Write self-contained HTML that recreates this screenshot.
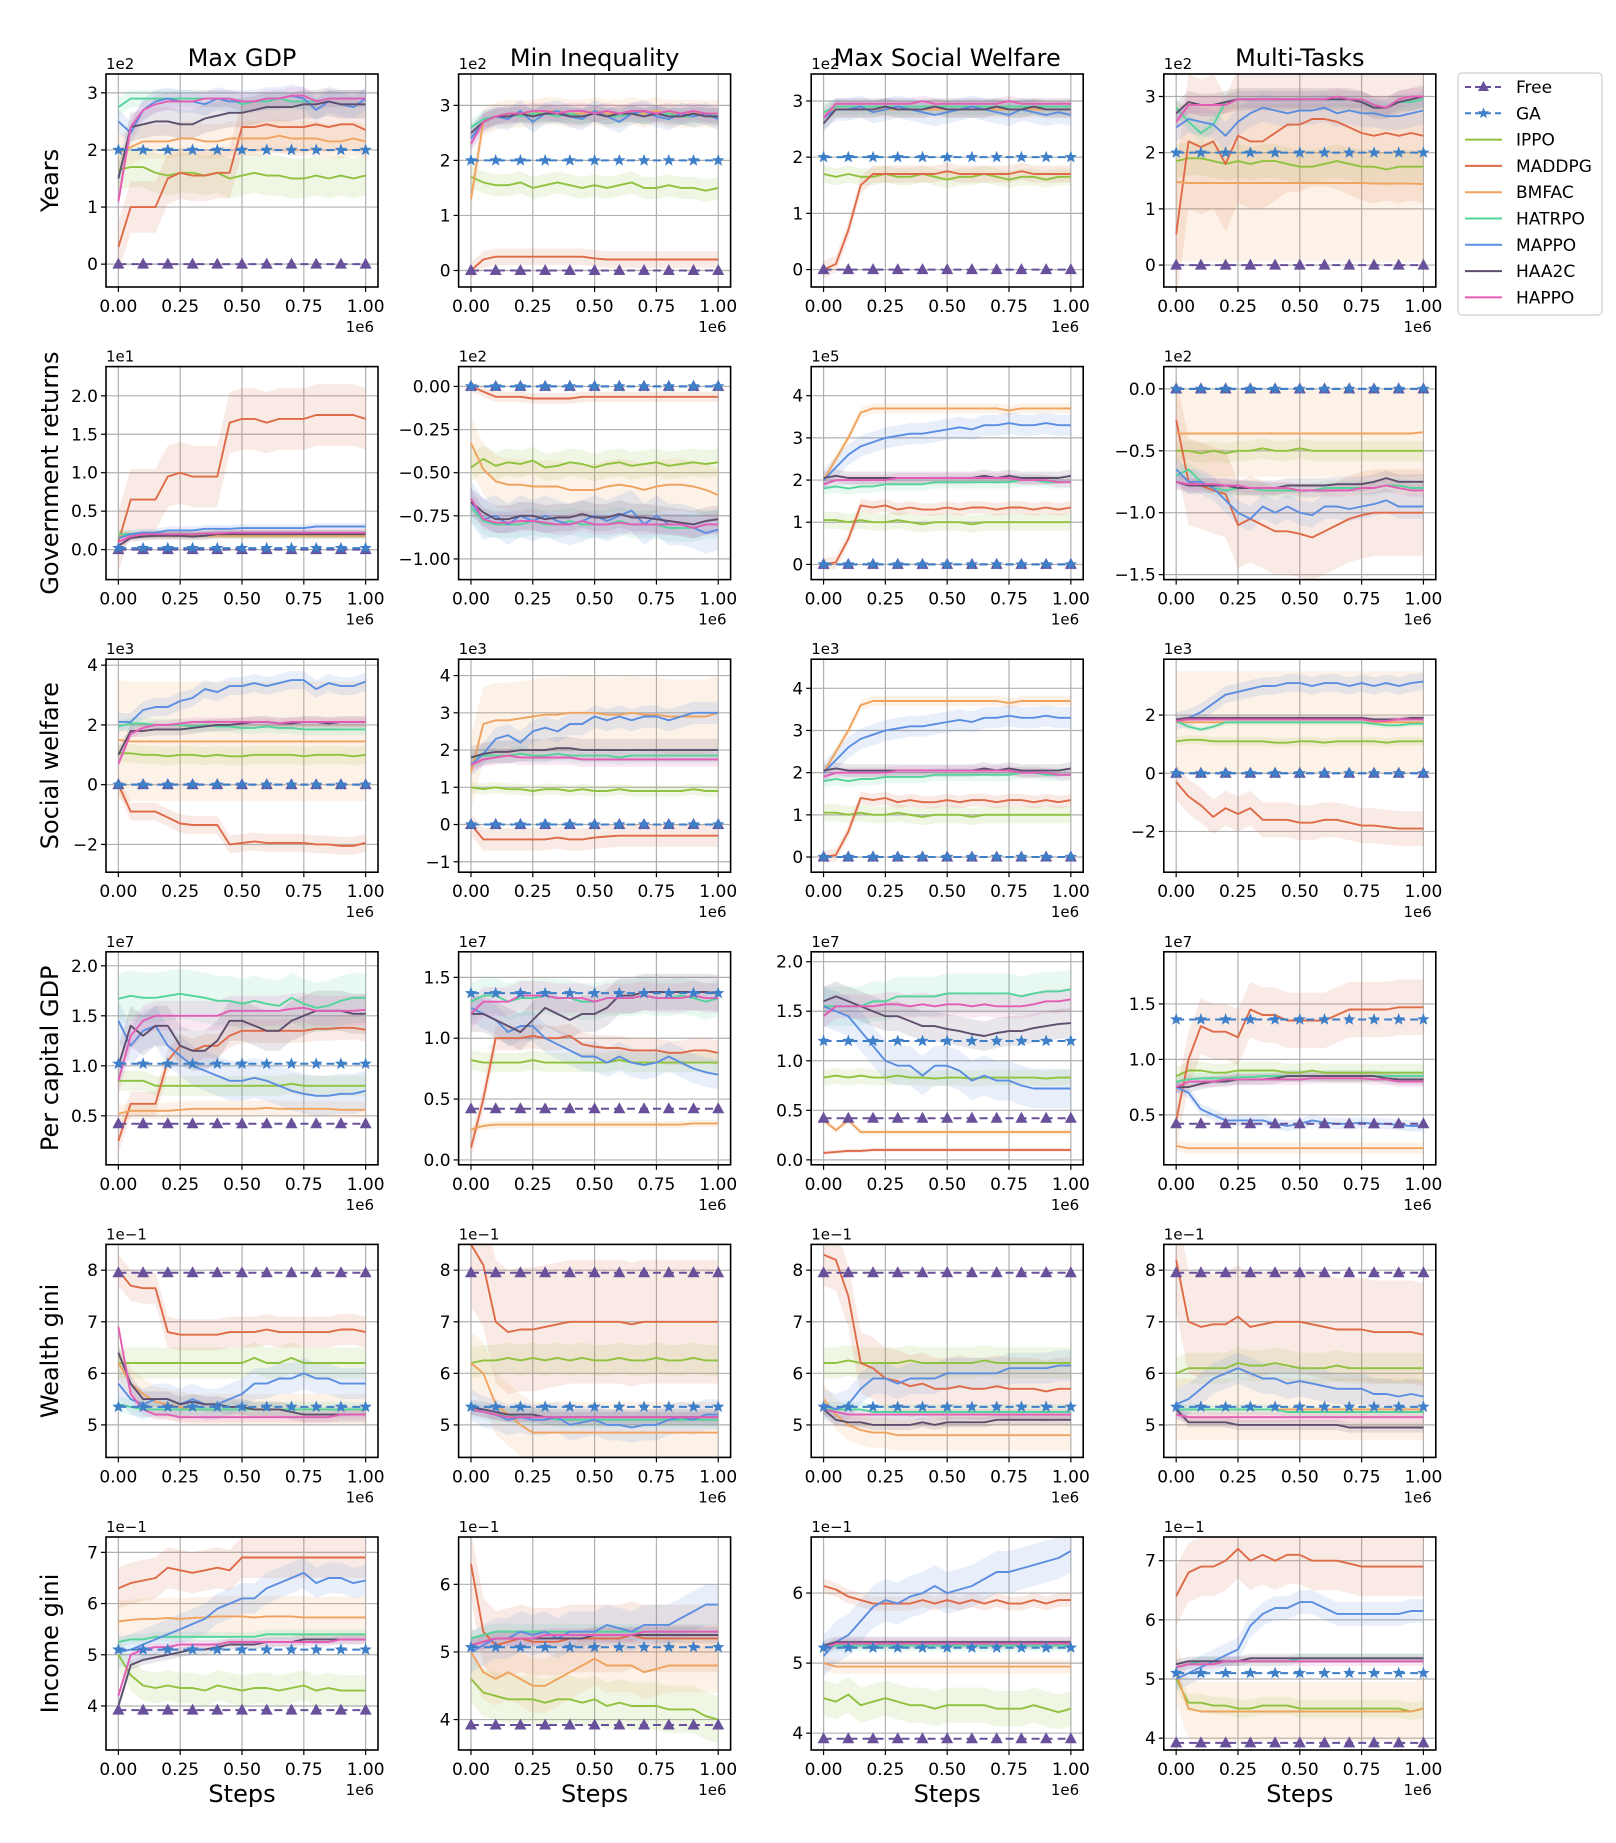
<!DOCTYPE html>
<html><head><meta charset="utf-8">
<style>
body{margin:0;background:#fff;}
svg text{font-family:"DejaVu Sans","Liberation Sans",sans-serif;fill:#000;}
</style></head>
<body>
<svg id="fig" width="1616" height="1838" viewBox="0 0 1616 1838" xmlns="http://www.w3.org/2000/svg"></svg>
<script>
// ---------- DATA ----------
const seriesNames = ["Free","GA","IPPO","MADDPG","BMFAC","HATRPO","MAPPO","HAA2C","HAPPO"];
const seriesColors = ["#68519a","#3d7fc8","#8fc23e","#df6a47","#f0a35e","#52d49a","#5b8ee0","#5d4e6d","#e45cb5"];
const colTitles = ["Max GDP","Min Inequality","Max Social Welfare","Multi-Tasks"];
const rowLabels = ["Years","Government returns","Social welfare","Per capital GDP","Wealth gini","Income gini"];
const rowExp = [["1e2","1e2","1e2","1e2"],["1e1","1e2","1e5","1e2"],["1e3","1e3","1e3","1e3"],["1e7","1e7","1e7","1e7"],["1e\u22121","1e\u22121","1e\u22121","1e\u22121"],["1e\u22121","1e\u22121","1e\u22121","1e\u22121"]];
const yLims = [
 [[-0.40,3.33],[-0.30,3.57],[-0.31,3.48],[-0.39,3.40]],
 [[-0.39,2.38],[-1.12,0.115],[-0.36,4.69],[-1.54,0.18]],
 [[-2.93,4.2],[-1.28,4.44],[-0.36,4.69],[-3.4,3.92]],
 [[0.01,2.14],[-0.04,1.71],[-0.05,2.1],[0.05,1.97]],
 [[4.37,8.5],[4.37,8.5],[4.37,8.5],[4.37,8.5]],
 [[3.14,7.3],[3.55,6.7],[3.76,6.8],[3.8,7.4]]
];
const yTicks = [
 [[0,1,2,3],[0,1,2,3],[0,1,2,3],[0,1,2,3]],
 [[0,0.5,1,1.5,2],[0,-0.25,-0.5,-0.75,-1],[0,1,2,3,4],[0,-0.5,-1,-1.5]],
 [[-2,0,2,4],[-1,0,1,2,3,4],[0,1,2,3,4],[-2,0,2]],
 [[0.5,1,1.5,2],[0,0.5,1,1.5],[0,0.5,1,1.5,2],[0.5,1,1.5]],
 [[5,6,7,8],[5,6,7,8],[5,6,7,8],[5,6,7,8]],
 [[4,5,6,7],[4,5,6],[4,5,6],[4,5,6,7]]
];
const yDec = [[0,0,0,0],[1,2,0,1],[0,0,0,0],[1,1,1,1],[0,0,0,0],[0,0,0,0]];
const xTicks = [0,0.25,0.5,0.75,1.0];
const xTickLabels = ["0.00","0.25","0.50","0.75","1.00"];
const baselines = [
 [[0,2],[0,2],[0,2],[0,2]],
 [[0,0.02],[0,0],[0,0],[0,0]],
 [[0,0],[0,0],[0,0],[0,0]],
 [[0.42,1.02],[0.42,1.37],[0.42,1.2],[0.42,1.36]],
 [[7.95,5.35],[7.95,5.35],[7.95,5.35],[7.95,5.35]],
 [[3.92,5.1],[3.92,5.07],[3.92,5.22],[3.92,5.1]]
];
const bands = [
 [[0.35,0.45,0.3,0.15,0.2,0.25,0.15],[0.2,0.15,0.25,0.15,0.2,0.15,0.15],[0.15,0.15,0.15,0.15,0.2,0.15,0.1],[0.3,1.2,1.4,0.15,0.25,0.2,0.15]],
 [[0.05,0.4,0.05,0.05,0.05,0.05,0.05],[0.08,0.03,0.15,0.08,0.12,0.08,0.06],[0.2,0.15,0.12,0.15,0.25,0.15,0.12],[0.08,0.35,0.35,0.06,0.1,0.06,0.05]],
 [[0.3,0.3,2.0,0.2,0.3,0.2,0.15],[0.15,0.3,1.0,0.2,0.3,0.3,0.2],[0.2,0.15,0.12,0.15,0.25,0.15,0.12],[0.15,0.6,1.75,0.1,0.3,0.1,0.1]],
 [[0.1,0.12,0.08,0.25,0.2,0.2,0.15],[0.08,0.1,0.03,0.15,0.12,0.15,0.12],[0.08,0.02,0.03,0.2,0.2,0.15,0.12],[0.08,0.25,0.05,0.05,0.05,0.05,0.05]],
 [[0.3,0.3,0.3,0.15,0.3,0.15,0.1],[0.3,1.2,0.6,0.15,0.3,0.15,0.1],[0.3,0.6,0.3,0.15,0.3,0.1,0.1],[0.3,1.0,0.6,0.1,0.3,0.1,0.1]],
 [[0.3,0.4,0.4,0.1,0.3,0.1,0.08],[0.35,0.5,0.4,0.12,0.3,0.12,0.1],[0.25,0.1,0.1,0.08,0.3,0.08,0.08],[0.15,0.5,0.5,0.08,0.2,0.08,0.08]]
];
const vals = [
 [
  [[1.65,1.7,1.7,1.6,1.55,1.6,1.6,1.55,1.6,1.5,1.55,1.6,1.55,1.55,1.5,1.5,1.55,1.5,1.55,1.5,1.55],
   [0.3,1.0,1.0,1.0,1.5,1.6,1.55,1.55,1.6,1.6,2.4,2.4,2.45,2.4,2.4,2.4,2.45,2.4,2.45,2.45,2.35],
   [1.95,2.05,2.15,2.15,2.15,2.2,2.2,2.15,2.15,2.2,2.2,2.2,2.2,2.25,2.2,2.2,2.2,2.15,2.15,2.2,2.15],
   [2.75,2.9,2.9,2.9,2.9,2.9,2.9,2.9,2.9,2.9,2.8,2.85,2.85,2.9,2.85,2.85,2.85,2.9,2.9,2.9,2.9],
   [2.5,2.3,2.7,2.85,2.9,2.85,2.85,2.8,2.9,2.85,2.85,2.85,2.9,2.9,2.95,2.9,2.7,2.85,2.8,2.75,2.9],
   [1.5,2.4,2.45,2.5,2.5,2.45,2.45,2.55,2.6,2.65,2.65,2.7,2.75,2.75,2.75,2.8,2.8,2.85,2.8,2.8,2.8],
   [1.1,2.4,2.7,2.8,2.85,2.85,2.85,2.9,2.9,2.9,2.85,2.85,2.9,2.9,2.95,2.95,2.85,2.9,2.9,2.9,2.9]],
  [[1.7,1.6,1.55,1.55,1.6,1.5,1.55,1.6,1.55,1.5,1.55,1.5,1.55,1.6,1.5,1.5,1.55,1.5,1.5,1.45,1.5],
   [0,0.2,0.25,0.25,0.25,0.25,0.25,0.25,0.25,0.25,0.22,0.2,0.2,0.2,0.2,0.2,0.2,0.2,0.2,0.2,0.2],
   [1.3,2.7,2.8,2.85,2.85,2.85,2.9,2.9,2.85,2.85,2.9,2.85,2.85,2.9,2.85,2.9,2.85,2.85,2.85,2.85,2.85],
   [2.6,2.75,2.8,2.85,2.8,2.85,2.85,2.8,2.85,2.8,2.85,2.8,2.8,2.85,2.8,2.85,2.85,2.8,2.8,2.85,2.8],
   [2.4,2.7,2.8,2.75,2.9,2.7,2.85,2.9,2.8,2.75,2.9,2.8,2.7,2.85,2.9,2.8,2.75,2.85,2.8,2.85,2.75],
   [2.5,2.7,2.8,2.8,2.85,2.8,2.85,2.85,2.8,2.8,2.85,2.8,2.85,2.85,2.8,2.85,2.8,2.8,2.85,2.8,2.8],
   [2.3,2.7,2.8,2.85,2.85,2.9,2.9,2.85,2.9,2.9,2.85,2.9,2.85,2.9,2.9,2.85,2.9,2.85,2.9,2.85,2.85]],
  [[1.7,1.65,1.7,1.65,1.65,1.7,1.65,1.65,1.7,1.65,1.6,1.65,1.65,1.7,1.65,1.6,1.65,1.65,1.6,1.65,1.65],
   [0,0.1,0.7,1.5,1.7,1.7,1.7,1.7,1.7,1.7,1.75,1.7,1.7,1.7,1.7,1.7,1.75,1.7,1.7,1.7,1.7],
   [2.8,2.85,2.85,2.85,2.85,2.85,2.85,2.85,2.85,2.85,2.85,2.85,2.85,2.85,2.85,2.85,2.85,2.85,2.85,2.85,2.85],
   [2.8,2.9,2.9,2.9,2.9,2.9,2.9,2.9,2.9,2.9,2.9,2.9,2.9,2.9,2.9,2.9,2.9,2.9,2.9,2.9,2.9],
   [2.7,2.85,2.85,2.9,2.8,2.85,2.9,2.85,2.8,2.75,2.8,2.85,2.9,2.85,2.8,2.75,2.85,2.8,2.75,2.8,2.75],
   [2.6,2.85,2.85,2.85,2.85,2.9,2.85,2.85,2.85,2.9,2.85,2.85,2.85,2.85,2.9,2.85,2.85,2.9,2.85,2.85,2.85],
   [2.7,2.95,2.95,2.95,2.95,2.95,2.95,2.95,3.0,2.95,2.95,2.95,2.95,2.95,2.95,3.0,2.95,2.95,2.95,2.95,2.95]],
  [[1.85,1.9,1.9,1.85,1.8,1.85,1.8,1.85,1.85,1.8,1.75,1.75,1.8,1.85,1.8,1.75,1.75,1.7,1.75,1.75,1.75],
   [0.55,2.2,2.1,2.2,1.8,2.3,2.2,2.2,2.35,2.5,2.5,2.6,2.6,2.55,2.45,2.35,2.3,2.35,2.3,2.35,2.3],
   [1.48,1.46,1.46,1.46,1.46,1.46,1.46,1.46,1.46,1.46,1.46,1.46,1.46,1.46,1.46,1.46,1.45,1.45,1.45,1.45,1.44],
   [2.8,2.55,2.35,2.5,2.9,2.95,2.95,2.95,2.95,2.95,2.95,2.95,2.95,2.95,2.95,2.95,2.8,2.8,2.9,2.9,2.95],
   [2.45,2.6,2.55,2.5,2.3,2.55,2.7,2.8,2.75,2.7,2.75,2.75,2.8,2.7,2.75,2.7,2.7,2.65,2.65,2.7,2.75],
   [2.7,2.9,2.85,2.85,2.9,2.95,2.95,2.95,2.95,2.95,2.95,2.95,2.95,2.95,2.95,2.9,2.8,2.8,2.9,2.95,3.0],
   [2.55,2.85,2.85,2.85,2.85,2.95,2.95,2.95,2.95,2.95,2.95,2.95,2.95,3.0,2.95,2.95,2.85,2.8,2.95,3.0,3.0]]
 ],
 [
  [[0.2,0.2,0.2,0.2,0.2,0.2,0.2,0.2,0.2,0.2,0.2,0.2,0.2,0.2,0.2,0.2,0.2,0.2,0.2,0.2,0.2],
   [0.1,0.65,0.65,0.65,0.95,1.0,0.95,0.95,0.95,1.65,1.7,1.7,1.65,1.7,1.7,1.7,1.75,1.75,1.75,1.75,1.7],
   [0.18,0.18,0.18,0.18,0.18,0.18,0.18,0.18,0.18,0.18,0.18,0.18,0.18,0.18,0.18,0.18,0.18,0.18,0.18,0.18,0.18],
   [0.2,0.2,0.2,0.2,0.2,0.2,0.2,0.2,0.2,0.2,0.2,0.2,0.2,0.2,0.2,0.2,0.2,0.2,0.2,0.2,0.2],
   [0.15,0.2,0.22,0.22,0.25,0.25,0.25,0.27,0.27,0.27,0.28,0.28,0.28,0.28,0.28,0.28,0.3,0.3,0.3,0.3,0.3],
   [0.05,0.15,0.17,0.18,0.18,0.18,0.17,0.18,0.2,0.2,0.2,0.2,0.2,0.2,0.2,0.2,0.2,0.2,0.2,0.2,0.2],
   [0.1,0.17,0.2,0.2,0.2,0.2,0.2,0.21,0.21,0.22,0.22,0.22,0.22,0.22,0.22,0.22,0.22,0.22,0.22,0.22,0.22]],
  [[-0.47,-0.42,-0.46,-0.44,-0.45,-0.43,-0.47,-0.46,-0.44,-0.45,-0.47,-0.45,-0.44,-0.46,-0.45,-0.44,-0.46,-0.45,-0.44,-0.45,-0.44],
   [0,-0.03,-0.06,-0.06,-0.06,-0.07,-0.07,-0.07,-0.07,-0.06,-0.06,-0.06,-0.06,-0.06,-0.06,-0.06,-0.06,-0.06,-0.06,-0.06,-0.06],
   [-0.33,-0.48,-0.55,-0.57,-0.57,-0.58,-0.58,-0.58,-0.6,-0.6,-0.6,-0.58,-0.57,-0.58,-0.6,-0.58,-0.57,-0.57,-0.58,-0.6,-0.63],
   [-0.7,-0.78,-0.8,-0.8,-0.8,-0.78,-0.8,-0.8,-0.78,-0.8,-0.8,-0.8,-0.78,-0.8,-0.8,-0.8,-0.82,-0.82,-0.82,-0.8,-0.8],
   [-0.67,-0.77,-0.75,-0.8,-0.75,-0.78,-0.75,-0.78,-0.8,-0.78,-0.75,-0.78,-0.75,-0.72,-0.8,-0.75,-0.8,-0.8,-0.82,-0.85,-0.83],
   [-0.67,-0.73,-0.77,-0.77,-0.75,-0.75,-0.77,-0.76,-0.76,-0.74,-0.76,-0.76,-0.74,-0.76,-0.76,-0.77,-0.78,-0.79,-0.8,-0.78,-0.77],
   [-0.65,-0.77,-0.79,-0.79,-0.78,-0.78,-0.79,-0.8,-0.8,-0.78,-0.8,-0.8,-0.79,-0.8,-0.8,-0.8,-0.8,-0.8,-0.82,-0.8,-0.8]],
  [[1.05,1.05,1.0,1.05,1.0,1.0,1.05,1.0,0.95,1.0,1.0,1.0,0.95,1.0,1.0,1.0,1.0,1.0,1.0,1.0,1.0],
   [0,0.05,0.6,1.4,1.35,1.4,1.3,1.35,1.3,1.3,1.35,1.3,1.35,1.35,1.3,1.35,1.35,1.3,1.35,1.3,1.35],
   [2.0,2.5,3.0,3.6,3.7,3.7,3.7,3.7,3.7,3.7,3.7,3.7,3.7,3.7,3.7,3.65,3.7,3.7,3.7,3.7,3.7],
   [1.8,1.85,1.8,1.85,1.85,1.9,1.9,1.9,1.9,1.95,1.95,1.95,1.95,1.95,1.95,1.95,2.0,2.0,1.95,1.95,1.95],
   [2.0,2.3,2.6,2.8,2.9,3.0,3.05,3.1,3.1,3.15,3.2,3.25,3.2,3.3,3.3,3.35,3.3,3.3,3.35,3.3,3.3],
   [2.05,2.1,2.05,2.05,2.05,2.05,2.05,2.05,2.05,2.05,2.05,2.05,2.05,2.1,2.05,2.1,2.05,2.05,2.05,2.05,2.1],
   [1.9,2.0,2.0,2.0,2.0,2.0,2.05,2.05,2.05,2.05,2.05,2.05,2.05,2.05,2.05,2.05,2.0,2.0,2.0,1.95,1.95]],
  [[-0.5,-0.5,-0.52,-0.5,-0.52,-0.5,-0.5,-0.48,-0.5,-0.5,-0.48,-0.5,-0.5,-0.5,-0.5,-0.5,-0.5,-0.5,-0.5,-0.5,-0.5],
   [-0.25,-0.75,-0.78,-0.82,-0.85,-1.1,-1.05,-1.1,-1.15,-1.15,-1.17,-1.2,-1.15,-1.1,-1.05,-1.02,-1.0,-1.0,-1.0,-1.0,-1.0],
   [-0.36,-0.36,-0.36,-0.36,-0.36,-0.36,-0.36,-0.36,-0.36,-0.36,-0.36,-0.36,-0.36,-0.36,-0.36,-0.36,-0.36,-0.36,-0.36,-0.36,-0.35],
   [-0.7,-0.65,-0.75,-0.8,-0.82,-0.8,-0.8,-0.82,-0.82,-0.82,-0.82,-0.82,-0.8,-0.8,-0.8,-0.8,-0.8,-0.78,-0.78,-0.8,-0.8],
   [-0.65,-0.75,-0.75,-0.8,-0.9,-1.0,-1.05,-0.95,-1.0,-0.95,-1.0,-1.02,-0.95,-0.95,-0.97,-0.95,-0.93,-0.9,-0.95,-0.95,-0.95],
   [-0.75,-0.78,-0.78,-0.78,-0.78,-0.8,-0.8,-0.8,-0.8,-0.78,-0.78,-0.78,-0.78,-0.77,-0.77,-0.77,-0.75,-0.72,-0.75,-0.75,-0.75],
   [-0.75,-0.77,-0.77,-0.77,-0.78,-0.78,-0.8,-0.8,-0.8,-0.8,-0.82,-0.82,-0.82,-0.82,-0.82,-0.8,-0.8,-0.78,-0.8,-0.82,-0.82]]
 ],
 [
  [[1.05,1.05,1.0,1.0,0.95,1.0,1.0,0.95,1.0,0.95,0.95,1.0,1.0,1.0,1.0,0.95,1.0,1.0,1.0,0.95,1.0],
   [0,-0.9,-0.9,-0.9,-1.1,-1.3,-1.35,-1.35,-1.35,-2.0,-1.95,-1.9,-1.95,-1.95,-1.95,-1.95,-2.0,-2.0,-2.05,-2.05,-1.95],
   [1.5,1.45,1.45,1.45,1.45,1.45,1.45,1.45,1.45,1.45,1.45,1.45,1.45,1.45,1.45,1.45,1.45,1.45,1.45,1.45,1.45],
   [1.95,2.05,2.05,2.0,2.0,2.0,1.95,2.0,1.95,1.95,1.9,1.9,1.95,1.9,1.9,1.85,1.85,1.85,1.85,1.85,1.85],
   [2.1,2.1,2.5,2.6,2.6,2.8,2.9,3.2,3.1,3.3,3.3,3.4,3.3,3.4,3.5,3.5,3.2,3.4,3.3,3.3,3.45],
   [1.0,1.8,1.8,1.85,1.85,1.85,1.9,1.95,2.0,2.0,2.05,2.1,2.1,2.05,2.05,2.1,2.1,2.05,2.1,2.1,2.1],
   [0.7,1.7,1.9,2.0,2.0,2.05,2.1,2.1,2.1,2.1,2.1,2.1,2.1,2.05,2.1,2.1,2.1,2.1,2.1,2.1,2.1]],
  [[1.0,0.95,1.0,0.95,0.95,0.9,0.95,0.95,0.9,0.95,0.9,0.9,0.95,0.9,0.9,0.9,0.9,0.9,0.95,0.9,0.9],
   [0,-0.4,-0.4,-0.4,-0.4,-0.4,-0.4,-0.35,-0.4,-0.4,-0.35,-0.32,-0.3,-0.3,-0.3,-0.3,-0.3,-0.3,-0.3,-0.3,-0.3],
   [1.4,2.7,2.8,2.8,2.85,2.9,2.95,2.95,3.0,3.0,3.0,2.95,2.95,3.0,2.95,2.95,2.9,2.9,2.9,2.9,3.0],
   [1.8,1.85,1.85,1.85,1.9,1.85,1.85,1.9,1.85,1.85,1.85,1.85,1.8,1.85,1.85,1.85,1.85,1.85,1.85,1.85,1.85],
   [1.6,1.9,2.3,2.4,2.2,2.5,2.6,2.5,2.7,2.7,2.9,2.8,2.9,2.8,2.9,2.9,2.8,2.9,3.0,3.0,3.0],
   [1.8,1.9,1.95,1.95,2.0,2.0,2.0,2.05,2.05,2.0,2.0,2.0,2.0,2.0,2.0,2.0,2.0,2.0,2.0,2.0,2.0],
   [1.6,1.75,1.8,1.85,1.8,1.8,1.8,1.8,1.8,1.75,1.75,1.75,1.75,1.75,1.75,1.75,1.75,1.75,1.75,1.75,1.75]],
  [[1.05,1.05,1.0,1.05,1.0,1.0,1.05,1.0,0.95,1.0,1.0,1.0,0.95,1.0,1.0,1.0,1.0,1.0,1.0,1.0,1.0],
   [0,0.05,0.6,1.4,1.35,1.4,1.3,1.35,1.3,1.3,1.35,1.3,1.35,1.35,1.3,1.35,1.35,1.3,1.35,1.3,1.35],
   [2.0,2.5,3.0,3.6,3.7,3.7,3.7,3.7,3.7,3.7,3.7,3.7,3.7,3.7,3.7,3.65,3.7,3.7,3.7,3.7,3.7],
   [1.8,1.85,1.8,1.85,1.85,1.9,1.9,1.9,1.9,1.95,1.95,1.95,1.95,1.95,1.95,1.95,2.0,2.0,1.95,1.95,1.95],
   [2.0,2.3,2.6,2.8,2.9,3.0,3.05,3.1,3.1,3.15,3.2,3.25,3.2,3.3,3.3,3.35,3.3,3.3,3.35,3.3,3.3],
   [2.05,2.1,2.05,2.05,2.05,2.05,2.05,2.05,2.05,2.05,2.05,2.05,2.05,2.1,2.05,2.1,2.05,2.05,2.05,2.05,2.1],
   [1.9,2.0,2.0,2.0,2.0,2.0,2.05,2.05,2.05,2.05,2.05,2.05,2.05,2.05,2.05,2.05,2.0,2.0,2.0,1.95,1.95]],
  [[1.1,1.15,1.15,1.1,1.1,1.1,1.1,1.1,1.05,1.05,1.1,1.1,1.05,1.1,1.1,1.1,1.1,1.05,1.1,1.1,1.1],
   [-0.3,-0.8,-1.1,-1.5,-1.2,-1.4,-1.2,-1.6,-1.6,-1.6,-1.7,-1.7,-1.6,-1.6,-1.7,-1.8,-1.8,-1.85,-1.9,-1.9,-1.9],
   [1.75,1.75,1.75,1.75,1.75,1.75,1.75,1.75,1.75,1.75,1.75,1.75,1.75,1.75,1.75,1.75,1.75,1.75,1.75,1.75,1.75],
   [1.8,1.6,1.5,1.6,1.75,1.75,1.75,1.75,1.75,1.75,1.75,1.75,1.75,1.75,1.75,1.75,1.7,1.65,1.65,1.7,1.7],
   [1.8,1.9,2.1,2.4,2.7,2.8,2.9,3.0,3.0,3.1,3.1,3.0,3.1,3.1,3.0,3.1,3.0,3.1,3.0,3.1,3.15],
   [1.85,1.9,1.9,1.9,1.9,1.9,1.9,1.9,1.9,1.9,1.9,1.9,1.9,1.9,1.9,1.9,1.85,1.85,1.85,1.9,1.9],
   [1.8,1.85,1.85,1.85,1.85,1.85,1.85,1.85,1.85,1.85,1.85,1.85,1.85,1.85,1.85,1.85,1.8,1.8,1.85,1.85,1.85]]
 ],
 [
  [[0.85,0.85,0.85,0.8,0.8,0.8,0.8,0.8,0.8,0.8,0.8,0.8,0.8,0.8,0.82,0.8,0.8,0.8,0.8,0.8,0.8],
   [0.25,0.62,0.62,0.62,1.05,1.2,1.15,1.2,1.2,1.3,1.35,1.35,1.35,1.35,1.35,1.35,1.37,1.37,1.38,1.38,1.36],
   [0.52,0.55,0.55,0.55,0.55,0.56,0.57,0.57,0.57,0.57,0.57,0.57,0.58,0.57,0.57,0.57,0.57,0.57,0.56,0.56,0.56],
   [1.67,1.7,1.68,1.68,1.7,1.72,1.7,1.68,1.65,1.65,1.62,1.65,1.62,1.6,1.68,1.62,1.58,1.6,1.65,1.68,1.68],
   [1.45,1.2,1.35,1.4,1.2,1.1,1.0,0.95,0.9,0.85,0.85,0.88,0.85,0.8,0.75,0.72,0.7,0.7,0.72,0.72,0.75],
   [1.0,1.4,1.3,1.4,1.4,1.2,1.15,1.15,1.25,1.45,1.45,1.4,1.35,1.35,1.45,1.5,1.55,1.55,1.55,1.52,1.52],
   [0.85,1.3,1.45,1.5,1.5,1.5,1.5,1.5,1.5,1.55,1.55,1.55,1.55,1.55,1.57,1.58,1.55,1.55,1.55,1.55,1.56]],
  [[0.82,0.8,0.8,0.8,0.8,0.82,0.8,0.8,0.8,0.8,0.8,0.8,0.82,0.8,0.8,0.8,0.8,0.8,0.8,0.8,0.8],
   [0.1,0.5,1.0,1.0,1.0,1.02,1.0,1.0,1.02,0.95,0.93,0.92,0.92,0.9,0.9,0.9,0.88,0.88,0.9,0.9,0.88],
   [0.25,0.28,0.29,0.29,0.29,0.29,0.29,0.29,0.29,0.29,0.29,0.29,0.29,0.29,0.29,0.29,0.29,0.29,0.3,0.3,0.3],
   [1.3,1.35,1.35,1.3,1.33,1.33,1.35,1.33,1.33,1.3,1.3,1.33,1.33,1.33,1.35,1.33,1.33,1.35,1.33,1.3,1.33],
   [1.25,1.2,1.15,1.05,1.1,1.1,1.0,0.95,0.9,0.85,0.85,0.8,0.85,0.8,0.78,0.8,0.85,0.8,0.75,0.72,0.7],
   [1.2,1.2,1.15,1.1,1.05,1.15,1.25,1.2,1.15,1.2,1.2,1.25,1.35,1.35,1.38,1.38,1.38,1.38,1.38,1.38,1.37],
   [1.2,1.3,1.3,1.3,1.35,1.35,1.35,1.33,1.33,1.33,1.3,1.33,1.33,1.33,1.35,1.33,1.33,1.33,1.35,1.33,1.33]],
  [[0.83,0.85,0.83,0.85,0.83,0.83,0.85,0.83,0.83,0.82,0.83,0.83,0.82,0.83,0.83,0.83,0.83,0.83,0.82,0.83,0.83],
   [0.07,0.08,0.09,0.09,0.1,0.1,0.1,0.1,0.1,0.1,0.1,0.1,0.1,0.1,0.1,0.1,0.1,0.1,0.1,0.1,0.1],
   [0.4,0.3,0.4,0.28,0.28,0.28,0.28,0.28,0.28,0.28,0.28,0.28,0.28,0.28,0.28,0.28,0.28,0.28,0.28,0.28,0.28],
   [1.55,1.55,1.55,1.55,1.6,1.6,1.65,1.65,1.65,1.65,1.68,1.68,1.68,1.68,1.68,1.68,1.65,1.68,1.7,1.7,1.72],
   [1.55,1.5,1.45,1.3,1.15,1.0,0.95,0.95,0.85,0.95,0.95,0.9,0.8,0.85,0.8,0.8,0.75,0.72,0.72,0.72,0.72],
   [1.6,1.65,1.6,1.55,1.5,1.45,1.45,1.4,1.35,1.35,1.32,1.3,1.27,1.25,1.28,1.3,1.3,1.33,1.35,1.37,1.38],
   [1.45,1.55,1.55,1.55,1.55,1.57,1.57,1.55,1.57,1.55,1.57,1.57,1.55,1.57,1.55,1.55,1.55,1.57,1.6,1.6,1.62]],
  [[0.85,0.9,0.9,0.88,0.88,0.9,0.9,0.9,0.9,0.88,0.88,0.9,0.88,0.88,0.88,0.88,0.88,0.88,0.88,0.88,0.88],
   [0.45,1.0,1.3,1.25,1.25,1.2,1.45,1.4,1.4,1.35,1.35,1.35,1.35,1.4,1.45,1.45,1.45,1.45,1.47,1.47,1.47],
   [0.22,0.2,0.2,0.2,0.2,0.2,0.2,0.2,0.2,0.2,0.2,0.2,0.2,0.2,0.2,0.2,0.2,0.2,0.2,0.2,0.2],
   [0.8,0.82,0.83,0.83,0.83,0.84,0.84,0.85,0.85,0.85,0.85,0.85,0.85,0.85,0.85,0.85,0.85,0.85,0.85,0.85,0.85],
   [0.75,0.7,0.55,0.5,0.45,0.45,0.45,0.45,0.42,0.4,0.42,0.45,0.43,0.42,0.42,0.43,0.42,0.42,0.41,0.4,0.4],
   [0.75,0.75,0.78,0.8,0.8,0.82,0.82,0.82,0.83,0.85,0.85,0.85,0.85,0.85,0.85,0.85,0.85,0.83,0.82,0.82,0.82],
   [0.75,0.8,0.8,0.8,0.82,0.82,0.82,0.82,0.82,0.82,0.82,0.83,0.83,0.83,0.83,0.83,0.82,0.82,0.8,0.8,0.8]]
 ],
 [
  [[6.2,6.2,6.2,6.2,6.2,6.2,6.2,6.2,6.2,6.2,6.2,6.3,6.2,6.2,6.3,6.2,6.2,6.2,6.2,6.2,6.2],
   [8.0,7.7,7.65,7.65,6.8,6.75,6.75,6.75,6.75,6.8,6.8,6.8,6.85,6.8,6.8,6.8,6.8,6.8,6.85,6.85,6.8],
   [6.2,5.8,5.6,5.45,5.4,5.35,5.3,5.3,5.3,5.3,5.3,5.3,5.3,5.3,5.3,5.3,5.3,5.3,5.3,5.3,5.3],
   [5.4,5.35,5.3,5.3,5.3,5.3,5.3,5.3,5.3,5.3,5.3,5.3,5.3,5.3,5.3,5.3,5.3,5.3,5.3,5.3,5.3],
   [5.8,5.5,5.4,5.5,5.5,5.4,5.5,5.4,5.4,5.5,5.6,5.8,5.8,5.9,5.9,6.0,5.9,5.9,5.8,5.8,5.8],
   [6.4,5.8,5.5,5.5,5.5,5.4,5.45,5.4,5.4,5.35,5.35,5.3,5.3,5.3,5.25,5.2,5.2,5.2,5.2,5.2,5.2],
   [6.9,5.6,5.3,5.2,5.2,5.15,5.15,5.15,5.15,5.15,5.15,5.15,5.15,5.15,5.15,5.15,5.15,5.15,5.2,5.2,5.2]],
  [[6.2,6.25,6.25,6.3,6.25,6.3,6.25,6.3,6.25,6.3,6.25,6.25,6.3,6.25,6.25,6.3,6.25,6.25,6.3,6.25,6.25],
   [8.5,8.1,7.0,6.8,6.85,6.85,6.9,6.95,7.0,7.0,7.0,7.0,7.0,6.95,7.0,7.0,7.0,7.0,7.0,7.0,7.0],
   [6.2,6.0,5.4,5.2,5.0,4.85,4.85,4.85,4.85,4.85,4.85,4.85,4.85,4.85,4.85,4.85,4.85,4.85,4.85,4.85,4.85],
   [5.3,5.25,5.2,5.2,5.15,5.15,5.15,5.1,5.1,5.1,5.1,5.1,5.1,5.1,5.1,5.1,5.1,5.1,5.1,5.1,5.1],
   [5.4,5.25,5.2,5.1,5.15,5.1,5.1,5.15,5.0,5.05,5.1,5.0,5.0,4.95,5.0,5.0,5.1,5.15,5.1,5.2,5.2],
   [5.35,5.3,5.25,5.2,5.2,5.2,5.15,5.15,5.15,5.15,5.15,5.15,5.15,5.15,5.15,5.15,5.15,5.15,5.15,5.15,5.15],
   [5.3,5.25,5.2,5.15,5.15,5.15,5.15,5.15,5.15,5.15,5.15,5.15,5.15,5.15,5.15,5.15,5.15,5.15,5.15,5.15,5.15]],
  [[6.2,6.2,6.25,6.2,6.2,6.2,6.2,6.25,6.2,6.2,6.2,6.2,6.2,6.25,6.2,6.2,6.2,6.2,6.2,6.2,6.2],
   [8.3,8.2,7.5,6.2,6.1,5.9,5.85,5.75,5.8,5.7,5.7,5.75,5.7,5.7,5.75,5.7,5.7,5.7,5.65,5.7,5.7],
   [5.5,5.2,5.0,4.9,4.85,4.85,4.8,4.8,4.8,4.8,4.8,4.8,4.8,4.8,4.8,4.8,4.8,4.8,4.8,4.8,4.8],
   [5.3,5.3,5.3,5.3,5.25,5.25,5.25,5.25,5.25,5.25,5.25,5.25,5.25,5.25,5.25,5.25,5.25,5.25,5.25,5.25,5.25],
   [5.4,5.3,5.4,5.7,5.9,5.9,5.8,5.9,5.9,5.9,6.0,6.0,6.0,6.0,6.0,6.1,6.1,6.1,6.1,6.15,6.15],
   [5.3,5.1,5.05,5.05,5.0,5.0,5.0,5.0,5.05,5.0,5.05,5.05,5.05,5.05,5.1,5.1,5.1,5.1,5.1,5.1,5.1],
   [5.3,5.25,5.2,5.2,5.2,5.2,5.2,5.2,5.2,5.2,5.2,5.2,5.2,5.2,5.2,5.2,5.2,5.2,5.2,5.2,5.2]],
  [[6.0,6.1,6.1,6.1,6.1,6.2,6.15,6.15,6.2,6.15,6.1,6.1,6.1,6.15,6.1,6.1,6.1,6.1,6.1,6.1,6.1],
   [8.2,7.0,6.9,6.95,6.95,7.1,6.9,6.95,7.0,7.0,7.0,6.95,6.9,6.85,6.85,6.85,6.8,6.8,6.8,6.8,6.75],
   [5.3,5.3,5.3,5.3,5.3,5.3,5.3,5.3,5.3,5.3,5.3,5.3,5.3,5.3,5.3,5.3,5.3,5.3,5.3,5.3,5.3],
   [5.3,5.3,5.3,5.3,5.3,5.3,5.3,5.3,5.3,5.25,5.25,5.25,5.25,5.25,5.25,5.25,5.25,5.25,5.25,5.25,5.25],
   [5.4,5.5,5.7,5.9,6.0,6.1,6.0,5.9,5.9,5.8,5.85,5.8,5.75,5.7,5.7,5.7,5.6,5.6,5.55,5.6,5.55],
   [5.3,5.05,5.05,5.05,5.05,5.0,5.0,5.0,5.0,5.0,5.0,5.0,5.0,5.0,4.95,4.95,4.95,4.95,4.95,4.95,4.95],
   [5.2,5.15,5.15,5.15,5.15,5.15,5.15,5.15,5.15,5.15,5.15,5.15,5.15,5.15,5.15,5.15,5.15,5.15,5.15,5.15,5.15]]
 ],
 [
  [[5.0,4.6,4.4,4.35,4.4,4.35,4.35,4.3,4.4,4.35,4.3,4.35,4.35,4.3,4.35,4.4,4.3,4.35,4.3,4.3,4.3],
   [6.3,6.4,6.45,6.5,6.7,6.65,6.6,6.65,6.7,6.65,6.9,6.9,6.9,6.9,6.9,6.9,6.9,6.9,6.9,6.9,6.9],
   [5.65,5.68,5.7,5.7,5.72,5.7,5.72,5.73,5.75,5.75,5.75,5.73,5.75,5.75,5.75,5.73,5.73,5.73,5.73,5.73,5.73],
   [5.25,5.3,5.3,5.35,5.35,5.35,5.35,5.35,5.35,5.35,5.35,5.35,5.4,5.4,5.4,5.4,5.4,5.4,5.4,5.4,5.4],
   [5.05,5.1,5.2,5.3,5.4,5.5,5.6,5.7,5.9,6.0,6.1,6.1,6.3,6.4,6.5,6.6,6.4,6.5,6.5,6.4,6.45],
   [4.0,4.8,4.9,4.95,5.0,5.05,5.1,5.1,5.15,5.2,5.2,5.2,5.25,5.25,5.25,5.3,5.3,5.3,5.3,5.3,5.3],
   [4.2,5.0,5.1,5.15,5.15,5.2,5.2,5.2,5.2,5.25,5.25,5.25,5.25,5.25,5.25,5.25,5.25,5.25,5.3,5.3,5.3]],
  [[4.6,4.4,4.35,4.3,4.3,4.3,4.25,4.3,4.3,4.25,4.3,4.2,4.25,4.2,4.2,4.2,4.15,4.15,4.15,4.05,4.0],
   [6.3,5.3,5.1,5.15,5.2,5.15,5.15,5.15,5.2,5.2,5.2,5.2,5.2,5.25,5.2,5.2,5.2,5.2,5.2,5.2,5.2],
   [5.0,4.7,4.6,4.7,4.6,4.5,4.5,4.6,4.7,4.8,4.9,4.8,4.8,4.8,4.7,4.75,4.8,4.8,4.8,4.8,4.8],
   [5.2,5.25,5.3,5.3,5.3,5.3,5.3,5.3,5.3,5.3,5.3,5.3,5.3,5.3,5.3,5.3,5.3,5.3,5.3,5.3,5.3],
   [5.0,5.1,5.2,5.2,5.3,5.25,5.3,5.2,5.3,5.3,5.3,5.4,5.35,5.3,5.4,5.4,5.4,5.5,5.6,5.7,5.7],
   [5.1,5.15,5.2,5.2,5.2,5.2,5.2,5.2,5.2,5.2,5.25,5.25,5.25,5.25,5.25,5.25,5.25,5.25,5.25,5.25,5.25],
   [5.1,5.15,5.2,5.2,5.2,5.2,5.25,5.25,5.25,5.25,5.25,5.25,5.25,5.25,5.3,5.3,5.3,5.3,5.3,5.3,5.3]],
  [[4.5,4.45,4.55,4.4,4.45,4.5,4.45,4.4,4.4,4.35,4.4,4.4,4.4,4.4,4.35,4.35,4.35,4.4,4.35,4.3,4.35],
   [6.1,6.05,5.95,5.9,5.85,5.85,5.85,5.85,5.9,5.85,5.9,5.85,5.9,5.85,5.9,5.85,5.85,5.9,5.85,5.9,5.9],
   [5.0,4.95,4.95,4.95,4.95,4.95,4.95,4.95,4.95,4.95,4.95,4.95,4.95,4.95,4.95,4.95,4.95,4.95,4.95,4.95,4.95],
   [5.2,5.25,5.25,5.25,5.25,5.25,5.25,5.25,5.25,5.25,5.25,5.25,5.25,5.25,5.25,5.25,5.25,5.25,5.25,5.25,5.25],
   [5.1,5.3,5.4,5.6,5.8,5.9,5.85,5.95,6.0,6.1,6.0,6.05,6.1,6.2,6.3,6.3,6.35,6.4,6.45,6.5,6.6],
   [5.25,5.3,5.3,5.3,5.3,5.3,5.3,5.3,5.3,5.3,5.3,5.3,5.3,5.3,5.3,5.3,5.3,5.3,5.3,5.3,5.3],
   [5.2,5.28,5.28,5.28,5.28,5.28,5.28,5.28,5.28,5.28,5.28,5.28,5.28,5.28,5.28,5.28,5.28,5.28,5.28,5.28,5.28]],
  [[5.0,4.6,4.6,4.55,4.55,4.5,4.5,4.55,4.55,4.55,4.5,4.5,4.5,4.5,4.5,4.5,4.5,4.5,4.5,4.45,4.5],
   [6.4,6.8,6.9,6.9,7.0,7.2,7.0,7.1,7.0,7.1,7.1,7.0,7.0,7.0,6.95,6.9,6.9,6.9,6.9,6.9,6.9],
   [5.1,4.5,4.45,4.45,4.45,4.45,4.45,4.45,4.45,4.45,4.45,4.45,4.45,4.45,4.45,4.45,4.45,4.45,4.45,4.45,4.5],
   [5.2,5.25,5.3,5.3,5.3,5.3,5.3,5.3,5.3,5.3,5.35,5.35,5.35,5.35,5.35,5.35,5.35,5.35,5.35,5.35,5.35],
   [5.0,5.1,5.2,5.3,5.4,5.5,5.9,6.1,6.2,6.2,6.3,6.3,6.2,6.1,6.1,6.1,6.1,6.1,6.1,6.15,6.15],
   [5.25,5.3,5.3,5.3,5.3,5.3,5.35,5.35,5.35,5.35,5.35,5.35,5.35,5.35,5.35,5.35,5.35,5.35,5.35,5.35,5.35],
   [5.2,5.25,5.25,5.25,5.3,5.3,5.3,5.3,5.3,5.3,5.3,5.3,5.3,5.3,5.3,5.3,5.3,5.3,5.3,5.3,5.3]]
 ]
];
const markerXs = [0,0.1,0.2,0.3,0.4,0.5,0.6,0.7,0.8,0.9,1.0];

// ---------- RENDER ----------
const NS = "http://www.w3.org/2000/svg";
const svg = document.getElementById("fig");
function mk(tag, attrs, parent){
  const e = document.createElementNS(NS, tag);
  for (const k in attrs) e.setAttribute(k, attrs[k]);
  (parent||svg).appendChild(e);
  return e;
}
const AX_L0 = 106, AX_DX = 352.6, AX_T0 = 74, AX_DY = 292.6, AX_W = 272, AX_H = 213;
const defs = mk("defs", {});
function fmt(v, d){ const s = Math.abs(v).toFixed(d); return (v < -1e-9 ? "\u2212" : "") + s; }
function starPts(cx, cy, R){
  const p = [];
  for (let i = 0; i < 10; i++){
    const r = i % 2 ? R*0.42 : R;
    const a = -Math.PI/2 + i*Math.PI/5;
    p.push((cx + r*Math.cos(a)).toFixed(1) + "," + (cy + r*Math.sin(a)).toFixed(1));
  }
  return p.join(" ");
}

for (let r = 0; r < 6; r++){
  for (let c = 0; c < 4; c++){
    const L = AX_L0 + c*AX_DX, T = AX_T0 + r*AX_DY;
    const [y0, y1] = yLims[r][c];
    const sx = v => L + (v + 0.05) / 1.1 * AX_W;
    const sy = v => T + AX_H - (v - y0) / (y1 - y0) * AX_H;
    const g = mk("g", {});
    
    
    const cp = mk("clipPath", {id: "cp" + r + c}, defs);
    mk("rect", {x: L, y: T, width: AX_W, height: AX_H}, cp);
    const grid = mk("g", {stroke: "#b0b0b0", "stroke-width": 1.2}, g);
    
    
    xTicks.forEach(v => mk("line", {x1: sx(v), x2: sx(v), y1: T, y2: T + AX_H}, grid));
    yTicks[r][c].forEach(v => mk("line", {x1: L, x2: L + AX_W, y1: sy(v), y2: sy(v)}, grid));
    const plot = mk("g", {"clip-path": "url(#cp" + r + c + ")"}, g);
    for (let s = 0; s < 7; s++){
      const arr = vals[r][c][s], n = arr.length, bw = bands[r][c][s];
      let up = [], dn = [];
      arr.forEach((v, i) => { const x = sx(i/(n-1)); up.push(x.toFixed(1) + "," + sy(v + bw).toFixed(1)); dn.unshift(x.toFixed(1) + "," + sy(v - bw).toFixed(1)); });
      const b = mk("polygon", {points: up.concat(dn).join(" "), fill: seriesColors[s+2], "fill-opacity": 0.14}, plot);
      
      
    }
    for (let s = 0; s < 7; s++){
      const arr = vals[r][c][s], n = arr.length;
      const pts = arr.map((v, i) => sx(i/(n-1)).toFixed(1) + "," + sy(v).toFixed(1)).join(" ");
      const l = mk("polyline", {points: pts, fill: "none", stroke: seriesColors[s+2], "stroke-width": 1.9, "stroke-linejoin": "round"}, plot);
      
      
    }
    for (let b = 0; b < 2; b++){
      const v = baselines[r][c][b], col = seriesColors[b];
      const bl = mk("line", {x1: sx(0), x2: sx(1), y1: sy(v), y2: sy(v), stroke: col, "stroke-width": 2.0, "stroke-dasharray": "8,5"}, plot);
      
      
      markerXs.forEach(mx => {
        const x = sx(mx), y = sy(v);
        let m;
        if (b === 0) m = mk("polygon", {points: `${x},${y-6.5} ${x-6},${y+4.5} ${x+6},${y+4.5}`, fill: col}, plot);
        else m = mk("polygon", {points: starPts(x, y, 6.5), fill: col}, plot);
        
        
      });
    }
    const fr = mk("rect", {x: L, y: T, width: AX_W, height: AX_H, fill: "none", stroke: "#000", "stroke-width": 1.6}, g);
    
    
    xTicks.forEach((v, i) => {
      mk("line", {x1: sx(v), x2: sx(v), y1: T + AX_H, y2: T + AX_H + 5, stroke: "#000", "stroke-width": 1.2}, g);
      const t = mk("text", {x: sx(v), y: T + AX_H + 25, "font-size": 17, "text-anchor": "middle"}, g);
      t.textContent = xTickLabels[i];
      
      
    });
    const e6 = mk("text", {x: L + AX_W - 4, y: T + AX_H + 45, "font-size": 15, "text-anchor": "end"}, g);
    e6.textContent = "1e6";
    
    
    yTicks[r][c].forEach(v => {
      mk("line", {x1: L - 5, x2: L, y1: sy(v), y2: sy(v), stroke: "#000", "stroke-width": 1.2}, g);
      const t = mk("text", {x: L - 8, y: sy(v) + 6, "font-size": 17, "text-anchor": "end"}, g);
      t.textContent = fmt(v, yDec[r][c]);
      
      
    });
    const ex = mk("text", {x: L, y: T - 5, "font-size": 15}, g);
    ex.textContent = rowExp[r][c];
    
    
    if (r === 0){
      const tt = mk("text", {x: L + AX_W/2, y: T - 8, "font-size": 24, "text-anchor": "middle"}, g);
      tt.textContent = colTitles[c];
      
      
    }
    if (r === 5){
      const st = mk("text", {x: L + AX_W/2, y: T + AX_H + 52, "font-size": 24, "text-anchor": "middle"}, g);
      st.textContent = "Steps";
      
      
    }
    if (c === 0){
      const yl = mk("text", {x: 0, y: 0, "font-size": 24, "text-anchor": "middle", transform: `translate(58,${T + AX_H/2}) rotate(-90)`}, g);
      yl.textContent = rowLabels[r];
      
      
    }
  }
}

const lg = mk("g", {});


mk("rect", {x: 1458, y: 73, width: 144, height: 242, rx: 4, fill: "#fff", stroke: "#d0d0d0", "stroke-width": 1.2}, lg);
seriesNames.forEach((nm, i) => {
  const y = 87 + i * 26.3;
  const e = mk("g", {}, lg);
  
  
  mk("line", {x1: 1465, x2: 1502, y1: y, y2: y, stroke: seriesColors[i], "stroke-width": 2.0, "stroke-dasharray": i < 2 ? "6,4" : "none"}, e);
  if (i === 0) mk("polygon", {points: `1483.5,${y-6} 1478,${y+4} 1489,${y+4}`, fill: seriesColors[0]}, e);
  if (i === 1) mk("polygon", {points: starPts(1483.5, y, 6), fill: seriesColors[1]}, e);
  const t = mk("text", {x: 1516, y: y + 6, "font-size": 17}, e);
  t.textContent = nm;
});
</script>
</body></html>
